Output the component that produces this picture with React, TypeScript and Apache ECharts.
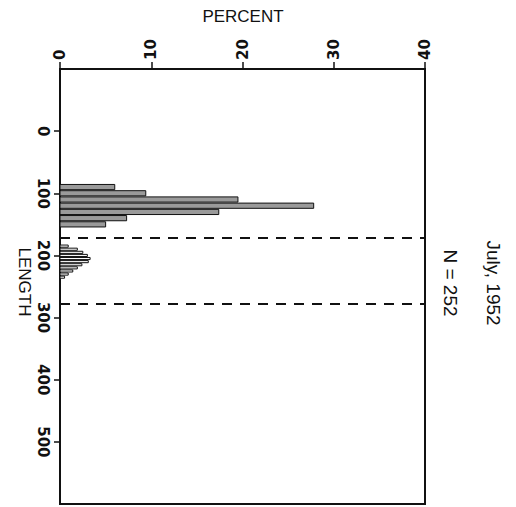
import React, { useEffect, useRef } from "react";
import * as echarts from "echarts";

// Length bins (centres) and percentages
const bigBinCenters = [90, 100, 110, 120, 130, 140, 150];
const bigPercent = [6.0, 9.4, 19.5, 27.8, 17.4, 7.3, 5.0];
const bigBinWidth = 10;

const smallBinCenters = [185, 190, 195, 200, 205, 210, 215, 220, 225, 230, 235];
const smallPercent = [0.9, 1.9, 2.5, 3.0, 3.3, 3.1, 2.4, 1.9, 1.4, 0.9, 0.5];
const smallBinWidth = 5;

const dashedLengths = [172, 278];

const percentTicks = [0, 10, 20, 30, 40];
const lengthTicks = [0, 100, 200, 300, 400, 500];

const FONT = "DejaVu Sans";

export default function App() {
  const ref = useRef<HTMLDivElement>(null);

  useEffect(() => {
    if (!ref.current) return;
    const chart = echarts.init(ref.current, null, { renderer: "svg" });

    const bigData = bigBinCenters.map((c, i) => [c - bigBinWidth / 2, c + bigBinWidth / 2, bigPercent[i]]);
    const smallData = smallBinCenters.map((c, i) => [c - smallBinWidth / 2, c + smallBinWidth / 2, smallPercent[i]]);

    const makeRender = (fill: string) => (params: any, api: any) => {
      const lo = api.value(0);
      const hi = api.value(1);
      const pct = api.value(2);
      const p0 = api.coord([0, lo]);
      const p1 = api.coord([pct, hi]);
      const y = Math.min(p0[1], p1[1]);
      const h = Math.abs(p1[1] - p0[1]);
      return {
        type: "rect",
        shape: { x: p0[0], y: y + 0.5, width: p1[0] - p0[0], height: Math.max(h - 1, 1) },
        style: { fill, stroke: "#111", lineWidth: 1 },
      };
    };

    const dashSeries = dashedLengths.map((v) => ({
      type: "line",
      data: [
        [0, v],
        [40, v],
      ],
      symbol: "none",
      lineStyle: { color: "#111", width: 2, type: [10, 8] },
      silent: true,
      z: 3,
    }));

    chart.setOption({
      animation: false,
      backgroundColor: "#fff",
      grid: {
        left: 60,
        right: 91,
        top: 69,
        bottom: 3,
        show: true,
        borderColor: "#111",
        borderWidth: 2,
        backgroundColor: "transparent",
      },
      xAxis: {
        type: "value",
        position: "top",
        min: 0,
        max: 40,
        interval: 10,
        axisLine: { show: true, onZero: false, lineStyle: { color: "#111", width: 2 } },
        axisTick: { show: true, inside: false, length: 7, lineStyle: { color: "#111", width: 1.5 } },
        axisLabel: {
          show: true,
          rotate: -90,
          margin: 9,
          color: "#111",
          fontFamily: FONT,
          fontWeight: "bold",
          fontSize: 15,
          formatter: (v: number) => (percentTicks.includes(v) ? String(v) : ""),
        },
        splitLine: { show: false },
      },
      yAxis: {
        type: "value",
        inverse: true,
        min: -100,
        max: 600,
        interval: 100,
        axisLine: { show: true, onZero: false, lineStyle: { color: "#111", width: 2 } },
        axisTick: {
          show: true,
          inside: false,
          length: 6,
          customValues: lengthTicks,
          lineStyle: { color: "#111", width: 1.5 },
        },
        axisLabel: {
          show: true,
          rotate: -90,
          margin: 10,
          color: "#111",
          fontFamily: FONT,
          fontWeight: "bold",
          fontSize: 15,
          customValues: lengthTicks,
          formatter: (v: number) => (lengthTicks.includes(v) ? String(v) : ""),
        },
        splitLine: { show: false },
      },
      graphic: [
        {
          type: "text",
          x: 243,
          y: 16,
          style: {
            text: "PERCENT",
            fontFamily: "Liberation Sans",
            fontSize: 17,
            fill: "#111",
            align: "center",
            verticalAlign: "middle",
          },
        },
        {
          type: "text",
          x: 24,
          y: 282,
          rotation: -Math.PI / 2,
          style: {
            text: "LENGTH",
            fontFamily: "Liberation Sans",
            fontSize: 17,
            fill: "#111",
            align: "center",
            verticalAlign: "middle",
          },
        },
        {
          type: "text",
          x: 450,
          y: 283,
          rotation: -Math.PI / 2,
          style: {
            text: "N = 252",
            fontFamily: "Liberation Sans",
            fontSize: 19,
            fill: "#111",
            align: "center",
            verticalAlign: "middle",
          },
        },
        {
          type: "text",
          x: 493,
          y: 283,
          rotation: -Math.PI / 2,
          style: {
            text: "July, 1952",
            fontFamily: "Liberation Sans",
            fontSize: 19,
            fill: "#111",
            align: "center",
            verticalAlign: "middle",
          },
        },
      ],
      series: [
        {
          type: "custom",
          renderItem: makeRender("#9a9a9a"),
          encode: { x: 2, y: [0, 1] },
          data: bigData,
          z: 4,
        },
        {
          type: "custom",
          renderItem: makeRender("#ffffff"),
          encode: { x: 2, y: [0, 1] },
          data: smallData,
          z: 4,
        },
        ...dashSeries,
      ],
    });

    return () => chart.dispose();
  }, []);

  return (
    <div
      ref={ref}
      style={{ position: "fixed", left: 0, top: 0, width: 516, height: 507 }}
    />
  );
}
